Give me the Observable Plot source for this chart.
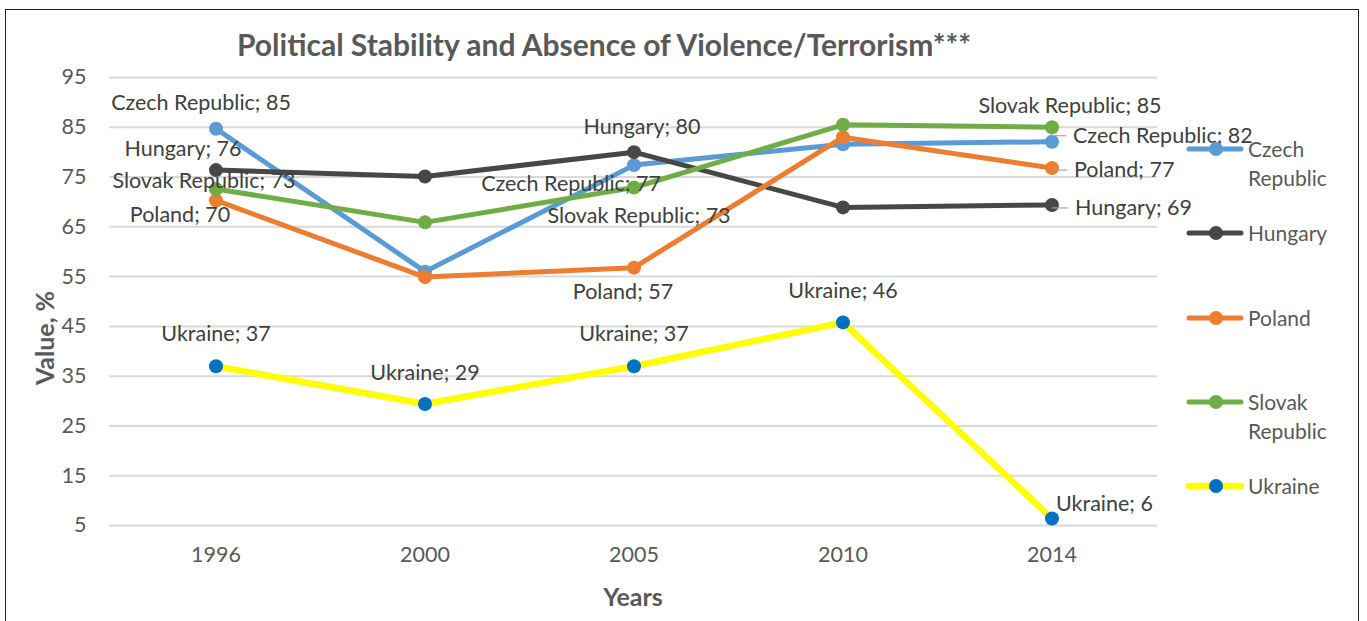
<!DOCTYPE html>
<html>
<head>
<meta charset="utf-8">
<script src="https://cdn.jsdelivr.net/npm/d3@7"></script>
<script src="https://cdn.jsdelivr.net/npm/@observablehq/plot@0.6"></script>
<style>
  html, body { margin: 0; padding: 0; background: #fff; }
  #wrap { position: relative; width: 1367px; height: 621px; overflow: hidden; font-family: Lato, "Open Sans", sans-serif; }
  #border { position: absolute; left: 5px; top: 9px; width: 1354px; height: 640px; border: 1.5px solid #222; box-sizing: border-box; }
  #chart { position: absolute; left: 0; top: 0; }
  .title { position: absolute; left: 604px; top: 44px; transform: translate(-50%, -50%); white-space: nowrap; font-weight: bold; font-size: 30px; color: #595959; }
  .ytitle { position: absolute; left: 44px; top: 338px; transform: translate(-50%, -50%) rotate(-90deg); font-weight: bold; font-size: 25px; color: #595959; white-space: nowrap; }
  .xtitle { position: absolute; left: 633px; top: 596px; transform: translate(-50%, -50%); font-weight: bold; font-size: 25px; color: #595959; }
  .leg { position: absolute; left: 1186px; display: flex; align-items: flex-start; font-size: 21px; color: #595959; line-height: 29px; }
  .leg svg { margin-top: 7px; margin-right: 4px; flex: none; }
</style>
</head>
<body>
<div id="wrap">
  <div id="chart"></div>
  <div id="border"></div>
  <div class="title">Political Stability and Absence of Violence/Terrorism***</div>
  <div class="ytitle">Value, %</div>
  <div class="xtitle">Years</div>
</div>
<script>
// ---- data ----
const years = ["1996", "2000", "2005", "2010", "2014"];
const seriesNames = ["Czech Republic", "Hungary", "Poland", "Slovak Republic", "Ukraine"];
const czech   = [84.7, 56.0, 77.4, 81.6, 82.1];
const hungary = [76.4, 75.1, 80.0, 68.9, 69.4];
const poland  = [70.3, 54.9, 56.8, 83.0, 76.8];
const slovak  = [72.6, 65.9, 72.9, 85.5, 85.0];
const ukraine = [37.0, 29.4, 37.0, 45.8, 6.4];
const yTicks = [5, 15, 25, 35, 45, 55, 65, 75, 85, 95];
// which points carry a data label
const labelled = {
  "Czech Republic": ["1996", "2005", "2014"],
  "Hungary": ["1996", "2005", "2014"],
  "Poland": ["1996", "2005", "2014"],
  "Slovak Republic": ["1996", "2005", "2014"],
  "Ukraine": ["1996", "2000", "2005", "2010", "2014"]
};

// ---- styles / placement ----
const W = 1367, H = 621, ML = 109, MR = 210, MT = 77, MB = 96;
const FONT = 21.5;
const lineColors = {"Czech Republic": "#5B9BD5", "Hungary": "#474747", "Poland": "#ED7D31", "Slovak Republic": "#70AD47", "Ukraine": "#FFFF00"};
const markerColors = {"Czech Republic": "#5B9BD5", "Hungary": "#474747", "Poland": "#ED7D31", "Slovak Republic": "#70AD47", "Ukraine": "#0070C0"};
const lineWidths = {"Czech Republic": 5, "Hungary": 5, "Poland": 5, "Slovak Republic": 5, "Ukraine": 6.5};
const labelPlace = {
  "Czech Republic|1996": [-15, -26, "middle"],
  "Hungary|1996": [-33, -21, "middle"],
  "Slovak Republic|1996": [-12, -8, "middle"],
  "Poland|1996": [-36, 15, "middle"],
  "Ukraine|1996": [0, -32, "middle"],
  "Ukraine|2000": [0, -31, "middle"],
  "Hungary|2005": [8, -25, "middle"],
  "Czech Republic|2005": [-63, 19, "middle"],
  "Slovak Republic|2005": [5, 29, "middle"],
  "Poland|2005": [-11, 24, "middle"],
  "Ukraine|2005": [0, -32, "middle"],
  "Ukraine|2010": [0, -31, "middle"],
  "Slovak Republic|2014": [18, -21, "middle"],
  "Czech Republic|2014": [21, -6, "start"],
  "Poland|2014": [22, 2, "start"],
  "Hungary|2014": [23, 3, "start"],
  "Ukraine|2014": [4, -14, "start"]
};
const leaderSeries = ["Czech Republic", "Poland", "Hungary"];

const valuesBySeries = {"Czech Republic": czech, "Hungary": hungary, "Poland": poland, "Slovak Republic": slovak, "Ukraine": ukraine};
const rows = seriesNames.flatMap(s => years.map((y, i) => ({series: s, year: y, value: valuesBySeries[s][i]})));
const labelRows = rows.filter(d => labelled[d.series].includes(d.year));
const bandwidth = (W - ML - MR) / years.length;

const marks = [
  Plot.gridY(yTicks, {stroke: "#D9D9D9", strokeOpacity: 1, strokeWidth: 2}),
  Plot.axisY(yTicks, {tickSize: 0, tickPadding: 23, fontSize: FONT, fill: "#595959", label: null}),
  Plot.axisX({tickSize: 0, tickPadding: 21, fontSize: FONT, fill: "#595959", label: null})
];
for (const s of seriesNames) {
  const data = rows.filter(d => d.series === s);
  marks.push(Plot.line(data, {x: "year", y: "value", stroke: lineColors[s], strokeWidth: lineWidths[s], strokeLinejoin: "round"}));
  marks.push(Plot.dot(data, {x: "year", y: "value", fill: markerColors[s], r: 7}));
}
// leader lines for right-side labels
for (const d of labelRows.filter(d => d.year === "2014" && leaderSeries.includes(d.series))) {
  const [dx, dy] = labelPlace[d.series + "|" + d.year];
  marks.push(Plot.tickY([d], {x: "year", y: "value", dy: dy, insetLeft: bandwidth / 2, insetRight: bandwidth / 2 - (dx - 6), stroke: "#A6A6A6", strokeWidth: 1.2}));
}
for (const d of labelRows) {
  const [dx, dy, anchor] = labelPlace[d.series + "|" + d.year];
  marks.push(Plot.text([d], {x: "year", y: "value", text: d => `${d.series}; ${Math.round(d.value)}`, dx, dy, textAnchor: anchor, fill: "#404040", fontSize: FONT}));
}

const chart = Plot.plot({
  width: W,
  height: H,
  marginLeft: ML,
  marginRight: MR,
  marginTop: MT,
  marginBottom: MB,
  x: {type: "band", domain: years, padding: 0},
  y: {domain: [5, 95]},
  style: {fontFamily: "Lato, 'Open Sans', sans-serif", background: "transparent", overflow: "visible"},
  marks
});
document.getElementById("chart").appendChild(chart);

// legend (HTML)
const legendTop = {"Czech Republic": 134, "Hungary": 218, "Poland": 303, "Slovak Republic": 387, "Ukraine": 471};
const legendLabel = {"Czech Republic": "Czech<br>Republic", "Hungary": "Hungary", "Poland": "Poland", "Slovak Republic": "Slovak<br>Republic", "Ukraine": "Ukraine"};
const wrap = document.getElementById("wrap");
for (const s of seriesNames) {
  const div = document.createElement("div");
  div.className = "leg";
  div.style.top = legendTop[s] + "px";
  div.innerHTML = `<svg width="58" height="16"><line x1="3" y1="8" x2="55" y2="8" stroke="${lineColors[s]}" stroke-width="${lineWidths[s]}" stroke-linecap="round"/><circle cx="30" cy="8" r="7" fill="${markerColors[s]}"/></svg><span>${legendLabel[s]}</span>`;
  wrap.appendChild(div);
}
</script>
</body>
</html>
